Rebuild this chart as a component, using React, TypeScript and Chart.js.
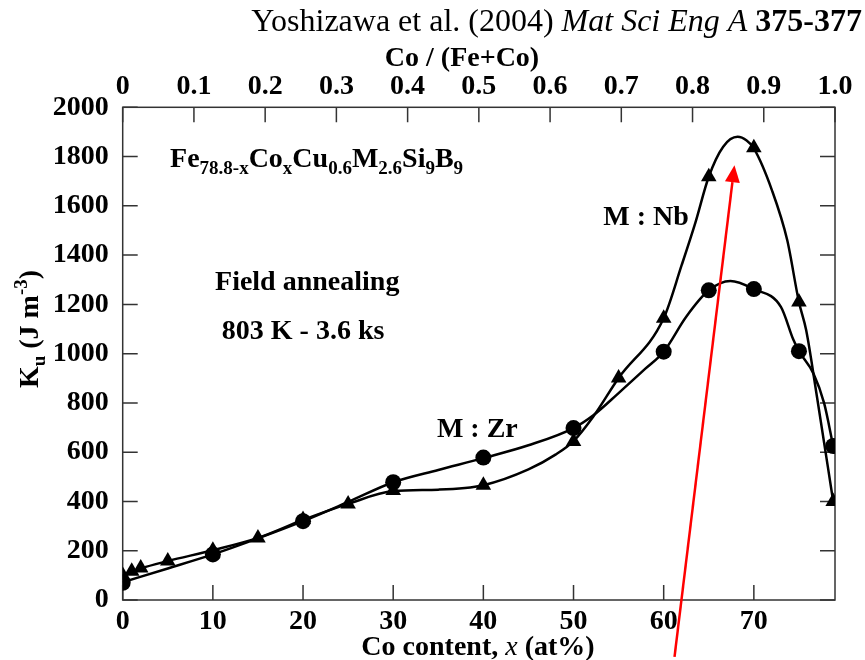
import React, { useEffect, useRef } from 'react';
import { Chart, registerables } from 'chart.js';

Chart.register(...registerables);

const FONT = '"Liberation Serif", "Times New Roman", serif';

// Axis ticks
const xTicks = [0, 10, 20, 30, 40, 50, 60, 70];
const xMax = 79;
const fracTicks = [0, 0.1, 0.2, 0.3, 0.4, 0.5, 0.6, 0.7, 0.8, 0.9, 1.0];
const fracLabels = ['0', '0.1', '0.2', '0.3', '0.4', '0.5', '0.6', '0.7', '0.8', '0.9', '1.0'];
const kuTicks = [0, 200, 400, 600, 800, 1000, 1200, 1400, 1600, 1800, 2000];

// Measured Ku (J m^-3) for M = Zr (circles)
const zrX = [0, 10, 20, 30, 40, 50, 60, 65, 70, 75, 78.8];
const zrKu = [70, 185, 320, 478, 578, 698, 1008, 1257, 1262, 1010, 625];

// Measured Ku (J m^-3) for M = Nb (triangles)
const nbX = [0, 1, 2, 5, 10, 15, 20, 25, 30, 40, 50, 55, 60, 65, 70, 75, 78.8];
const nbKu = [100, 117, 130, 158, 202, 252, 327, 390, 444, 466, 643, 901, 1144, 1718, 1836, 1210, 400];

// Hand-drawn guide curves
const zrCurveX = [0, 5, 10, 15, 20, 25, 30, 35, 40, 45, 50, 52.2, 55, 58, 60, 62.5, 65, 67.4, 70, 73, 74.4, 75, 76.6, 77.8, 78.8];
const zrCurveKu = [72, 128, 185, 250, 320, 398, 478, 528, 576, 628, 698, 750, 840, 940, 1008, 1150, 1257, 1295, 1262, 1190, 1055, 1010, 920, 798, 625];

const nbCurveX = [0, 2, 5, 10, 15, 20, 25, 30, 35, 40, 45, 48, 50, 52.2, 55, 60, 62, 63.5, 65, 66.6, 68.2, 69.2, 70, 72, 73.7, 75, 75.8, 77, 78.8];
const nbCurveKu = [100, 128, 158, 202, 252, 325, 390, 442, 448, 466, 530, 590, 645, 745, 901, 1144, 1360, 1530, 1718, 1840, 1880, 1865, 1833, 1664, 1461, 1210, 1096, 825, 400];

// Red arrow: tail then head (Co content, Ku)
const arrowX = [61.2, 67.85];
const arrowKu = [-231, 1765];

type Seg = { t: string; size: number; weight?: string; style?: string; dy?: number };

function drawRich(ctx: CanvasRenderingContext2D, segs: Seg[], x: number, y: number, align: 'left' | 'center' | 'right') {
  const fontOf = (s: Seg) => `${s.style || 'normal'} ${s.weight || 'bold'} ${s.size}px ${FONT}`;
  const widths = segs.map((s) => {
    ctx.font = fontOf(s);
    return ctx.measureText(s.t).width;
  });
  const total = widths.reduce((a, b) => a + b, 0);
  let cx = align === 'left' ? x : align === 'center' ? x - total / 2 : x - total;
  ctx.textAlign = 'left';
  ctx.textBaseline = 'alphabetic';
  segs.forEach((s, i) => {
    ctx.font = fontOf(s);
    ctx.fillText(s.t, cx, y + (s.dy || 0));
    cx += widths[i];
  });
}

const framePlugin = {
  id: 'frameTicks',
  beforeDatasetsDraw(chart: any) {
    const { ctx, chartArea: a, scales } = chart;
    const tl = 15;
    ctx.save();
    ctx.strokeStyle = '#333';
    ctx.lineWidth = 1.5;
    ctx.strokeRect(a.left, a.top, a.right - a.left, a.bottom - a.top);
    ctx.beginPath();
    xTicks.forEach((v) => {
      const px = scales.x.getPixelForValue(v);
      ctx.moveTo(px, a.bottom);
      ctx.lineTo(px, a.bottom - tl);
    });
    fracTicks.forEach((v) => {
      const px = scales.xTop.getPixelForValue(v);
      ctx.moveTo(px, a.top);
      ctx.lineTo(px, a.top + tl);
    });
    kuTicks.forEach((v) => {
      const py = scales.y.getPixelForValue(v);
      ctx.moveTo(a.left, py);
      ctx.lineTo(a.left + tl, py);
      ctx.moveTo(a.right, py);
      ctx.lineTo(a.right - tl, py);
    });
    ctx.stroke();
    ctx.restore();
  },
  afterDraw(chart: any) {
    const { ctx, scales } = chart;
    const sx = (v: number) => scales.x.getPixelForValue(v);
    const sy = (v: number) => scales.y.getPixelForValue(v);
    ctx.save();
    ctx.fillStyle = '#000';

    // Header
    drawRich(ctx, [
      { t: 'Yoshizawa et al. (2004) ', size: 32, weight: 'normal' },
      { t: 'Mat Sci Eng A', size: 32, weight: 'normal', style: 'italic' },
      { t: ' 375-377', size: 32, weight: 'bold' },
    ], 862, 31, 'right');
    drawRich(ctx, [{ t: 'Co / (Fe+Co)', size: 28 }], 462, 66, 'center');

    // Axis titles
    drawRich(ctx, [
      { t: 'Co content, ', size: 28 },
      { t: 'x', size: 28, weight: 'normal', style: 'italic' },
      { t: ' (at%)', size: 28 },
    ], 478, 655, 'center');
    ctx.save();
    ctx.translate(38, 329);
    ctx.rotate(-Math.PI / 2);
    drawRich(ctx, [
      { t: 'K', size: 28 },
      { t: 'u', size: 19, dy: 7 },
      { t: ' (J m', size: 28 },
      { t: '-3', size: 19, dy: -11 },
      { t: ')', size: 28 },
    ], 0, 0, 'center');
    ctx.restore();

    // Annotations inside the plot
    drawRich(ctx, [
      { t: 'Fe', size: 28 },
      { t: '78.8-x', size: 19, dy: 7 },
      { t: 'Co', size: 28 },
      { t: 'x', size: 19, dy: 7 },
      { t: 'Cu', size: 28 },
      { t: '0.6', size: 19, dy: 7 },
      { t: 'M', size: 28 },
      { t: '2.6', size: 19, dy: 7 },
      { t: 'Si', size: 28 },
      { t: '9', size: 19, dy: 7 },
      { t: 'B', size: 28 },
      { t: '9', size: 19, dy: 7 },
    ], sx(5.25), sy(1758), 'left');
    drawRich(ctx, [{ t: 'Field annealing', size: 28 }], sx(10.24), sy(1258), 'left');
    drawRich(ctx, [{ t: '803 K - 3.6 ks', size: 28 }], sx(10.99), sy(1059), 'left');
    drawRich(ctx, [{ t: 'M : Nb', size: 28 }], sx(53.3), sy(1522), 'left');
    drawRich(ctx, [{ t: 'M : Zr', size: 28 }], sx(34.85), sy(662), 'left');

    // Red arrow
    const x0 = sx(arrowX[0]);
    const y0 = sy(arrowKu[0]);
    const x1 = sx(arrowX[1]);
    const y1 = sy(arrowKu[1]);
    const ang = Math.atan2(y1 - y0, x1 - x0);
    const headLen = 17;
    const headHalf = 7.5;
    const bx = x1 - headLen * Math.cos(ang);
    const by = y1 - headLen * Math.sin(ang);
    ctx.strokeStyle = '#ff0000';
    ctx.fillStyle = '#ff0000';
    ctx.lineWidth = 2.5;
    ctx.beginPath();
    ctx.moveTo(x0, y0);
    ctx.lineTo(bx, by);
    ctx.stroke();
    ctx.beginPath();
    ctx.moveTo(x1, y1);
    ctx.lineTo(bx + headHalf * Math.sin(ang), by - headHalf * Math.cos(ang));
    ctx.lineTo(bx - headHalf * Math.sin(ang), by + headHalf * Math.cos(ang));
    ctx.closePath();
    ctx.fill();
    ctx.restore();
  },
};

const tickFont = { family: FONT, size: 28, weight: 'bold' as const };

export default function App() {
  const ref = useRef<HTMLCanvasElement | null>(null);

  useEffect(() => {
    if (!ref.current) return;
    const curve = (xs: number[], ys: number[]) => xs.map((x, i) => ({ x, y: ys[i] }));
    const chart = new Chart(ref.current, {
      type: 'line',
      data: {
        datasets: [
          {
            data: curve(zrCurveX, zrCurveKu),
            borderColor: '#000',
            borderWidth: 2.5,
            pointRadius: 0,
            cubicInterpolationMode: 'monotone',
            xAxisID: 'x',
            yAxisID: 'y',
          },
          {
            data: curve(nbCurveX, nbCurveKu),
            borderColor: '#000',
            borderWidth: 2.5,
            pointRadius: 0,
            cubicInterpolationMode: 'monotone',
            xAxisID: 'x',
            yAxisID: 'y',
          },
          {
            data: curve(zrX, zrKu),
            showLine: false,
            pointStyle: 'circle',
            pointRadius: 8,
            backgroundColor: '#000',
            borderColor: '#000',
            borderWidth: 0,
            xAxisID: 'x',
            yAxisID: 'y',
          },
          {
            data: curve(nbX, nbKu),
            showLine: false,
            pointStyle: 'triangle',
            pointRadius: 9,
            backgroundColor: '#000',
            borderColor: '#000',
            borderWidth: 0,
            xAxisID: 'x',
            yAxisID: 'y',
          },
        ],
      },
      options: {
        responsive: false,
        animation: false,
        devicePixelRatio: 1,
        layout: { padding: { left: 0, right: 30, top: 0, bottom: 0 } },
        plugins: {
          legend: { display: false },
          tooltip: { enabled: false },
        },
        scales: {
          x: {
            type: 'linear',
            position: 'bottom',
            min: 0,
            max: xMax,
            grid: { display: false, drawTicks: false },
            border: { display: false },
            ticks: {
              font: tickFont,
              color: '#000',
              padding: 5,
              maxRotation: 0,
              autoSkip: false,
              callback: (v: any) => String(v),
            },
            afterBuildTicks: (s: any) => {
              s.ticks = xTicks.map((v) => ({ value: v }));
            },
            afterFit: (s: any) => {
              s.height = 60;
            },
          },
          xTop: {
            type: 'linear',
            position: 'top',
            min: 0,
            max: 1,
            grid: { display: false, drawTicks: false },
            border: { display: false },
            ticks: {
              font: tickFont,
              color: '#000',
              padding: 4,
              maxRotation: 0,
              autoSkip: false,
              callback: (_v: any, i: number) => fracLabels[i],
            },
            afterBuildTicks: (s: any) => {
              s.ticks = fracTicks.map((v) => ({ value: v }));
            },
            afterFit: (s: any) => {
              s.height = 107.3;
            },
          },
          y: {
            type: 'linear',
            position: 'left',
            min: 0,
            max: 2000,
            grid: { display: false, drawTicks: false },
            border: { display: false },
            ticks: {
              font: tickFont,
              color: '#000',
              padding: 14,
              autoSkip: false,
              callback: (v: any) => String(v),
            },
            afterBuildTicks: (s: any) => {
              s.ticks = kuTicks.map((v) => ({ value: v }));
            },
            afterFit: (s: any) => {
              s.width = 122.7;
            },
          },
        },
      },
      plugins: [framePlugin],
    } as any);
    return () => chart.destroy();
  }, []);

  return (
    <div style={{ position: 'absolute', left: 0, top: 0, width: 865, height: 660, background: '#fff' }}>
      <canvas ref={ref} width={865} height={660} />
    </div>
  );
}
